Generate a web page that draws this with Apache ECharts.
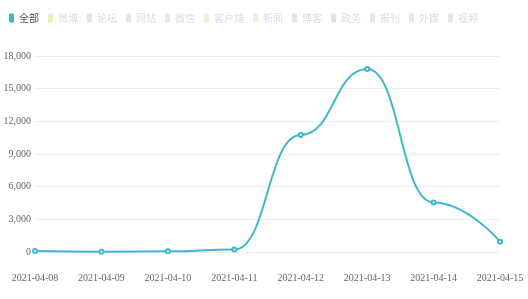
<!DOCTYPE html>
<html><head><meta charset="utf-8">
<script src="https://cdn.jsdelivr.net/npm/echarts@6/dist/echarts.min.js"></script>
<style>html,body{margin:0;padding:0;background:#fff}#c{width:528px;height:299px}</style>
</head><body><div id="c"></div>
<script>
var categories = ['2021-04-08','2021-04-09','2021-04-10','2021-04-11','2021-04-12','2021-04-13','2021-04-14','2021-04-15'];
var allValues = [100, 30, 60, 220, 10750, 16800, 4550, 950];
var legendNames = ['全部','微博','论坛','网站','微信','客户端','新闻','博客','政务','报刊','外媒','视频'];
var legendColors = ['#3fb8cc','#f3e3a0','#bfe0ea','#c5e3ec','#cfe8e2','#e6efc3','#f4e9b5','#c9dcef','#d8d0ea','#c8e0ee','#cfdff0','#efd2d8'];

var series = legendNames.map(function(n, i){
  return {
    name: n, type: 'line', smooth: 0.5, smoothMonotone: 'x',
    data: i === 0 ? allValues : [],
    symbol: 'emptyCircle', symbolSize: 4,
    lineStyle: {width: 2, color: legendColors[i]},
    itemStyle: {color: legendColors[i], borderWidth: 1}
  };
});

var chart = echarts.init(document.getElementById('c'));
chart.setOption({
  animation: false,
  color: legendColors,
  legend: {
    left: 4, top: 8, itemWidth: 5, itemHeight: 9, itemGap: 9,
    icon: 'roundRect',
    data: legendNames.map(function(n, i){
      return {name: n, itemStyle: {color: legendColors[i], opacity: i === 0 ? 1 : 0.7},
        textStyle: {color: i === 0 ? '#555' : '#ddd', fontSize: 10, fontFamily: 'Noto Sans CJK SC'}};
    })
  },
  grid: {left: 35, right: 28, top: 56, bottom: 47, containLabel: false},
  xAxis: {
    type: 'category', data: categories, boundaryGap: false,
    axisLine: {show: false}, axisTick: {show: false},
    axisLabel: {color: '#666', fontSize: 10, margin: 21, fontFamily: 'Liberation Sans Narrow'}
  },
  yAxis: {
    type: 'value', min: 0, max: 18000, interval: 3000,
    axisLine: {show: false}, axisTick: {show: false},
    splitLine: {lineStyle: {color: '#eeeeee'}},
    axisLabel: {color: '#666', fontSize: 10, margin: 4, fontFamily: 'Liberation Sans Narrow',
      formatter: function(v){ return v.toLocaleString('en-US'); }}
  },
  series: series
});
</script></body></html>
